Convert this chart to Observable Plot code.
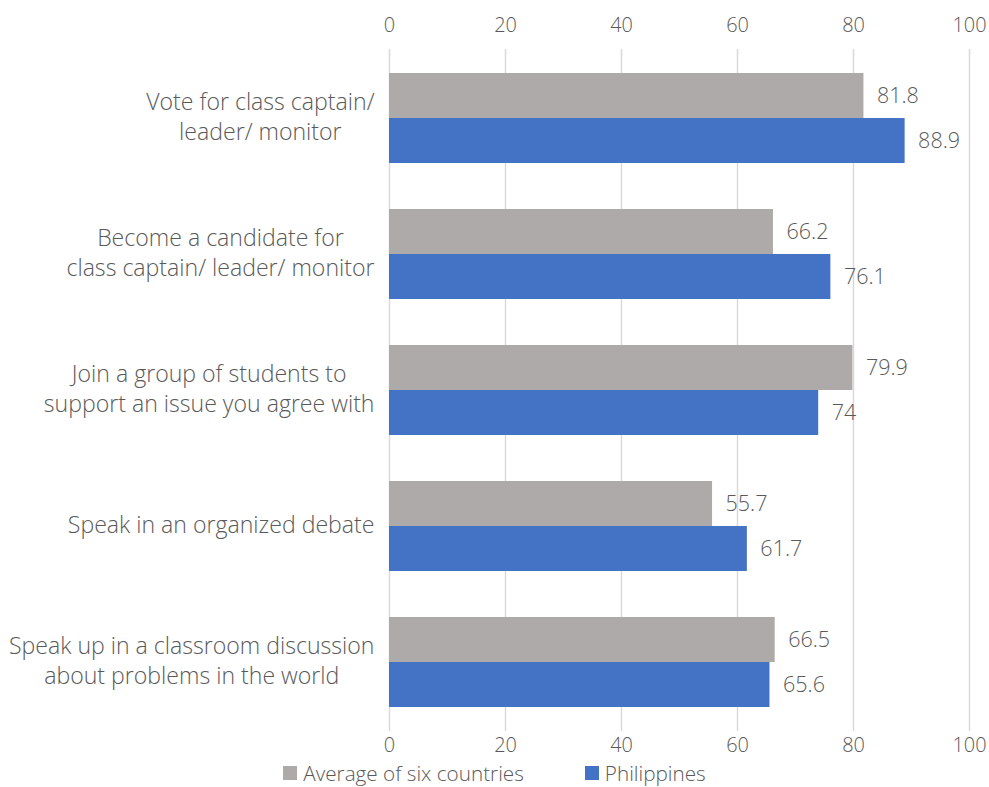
<!DOCTYPE html>
<html>
<head>
<meta charset="utf-8">
<script src="https://cdn.jsdelivr.net/npm/d3@7"></script>
<script src="https://cdn.jsdelivr.net/npm/@observablehq/plot@0.6"></script>
<style>
  body { margin: 0; background: #fff; font-family: "Open Sans", sans-serif; }
  #chart { width: 989px; }
  #legend { width: 989px; height: 29px; display: flex; justify-content: center; align-items: center; gap: 61px; font-size: 20.7px; font-weight: 300; color: #595959; }
  #legend .item { display: flex; align-items: center; gap: 6px; }
  #legend .sw { width: 14px; height: 14px; display: inline-block; }
</style>
</head>
<body>
<div id="chart"></div>
<div id="legend"></div>
<script>
// Activities students say they would do at school
const categories = [
  "Vote for class captain/\nleader/ monitor",
  "Become a candidate for\nclass captain/ leader/ monitor",
  "Join a group of students to\nsupport an issue you agree with",
  "Speak in an organized debate",
  "Speak up in a classroom discussion\nabout problems in the world"
];
const averageSix = [81.8, 66.2, 79.9, 55.7, 66.5];
const philippines = [88.9, 76.1, 74, 61.7, 65.6];
const xTicks = [0, 20, 40, 60, 80, 100];
const seriesNames = ["Average of six countries", "Philippines"];
const seriesColors = ["#AEAAAA", "#4472C4"];

const table = categories.map((c, i) => ({category: c, avg: averageSix[i], ph: philippines[i]}));

const W = 989, H = 758, mTop = 49, mBottom = 27, mLeft = 389, mRight = 20;
const padInner = 0.34, padOuter = 0.17;
const step = (H - mTop - mBottom) / (categories.length - padInner + 2 * padOuter);
const band = step * (1 - padInner);
const half = band / 2;

const weight = 300;
const textColor = "#595959";
const tickSize = 19.9, catSize = 23.1, valueSize = 21.5;
const ctx = document.createElement("canvas").getContext("2d");
ctx.font = `${weight} ${catSize}px "Open Sans"`;
const labelGap = 15;

// one centred multi-line label per category, right-aligned as a block
const categoryLabels = categories.map(c => {
  const w = d3.max(c.split("\n"), s => ctx.measureText(s).width);
  return Plot.text([c], {
    y: d => d, frameAnchor: "left", textAnchor: "middle",
    dx: -(labelGap + w / 2), dy: -3, lineHeight: 1.3,
    fill: textColor, fontSize: catSize, fontWeight: weight
  });
});

const chart = Plot.plot({
  width: W, height: H,
  marginTop: mTop, marginBottom: mBottom, marginLeft: mLeft, marginRight: mRight,
  style: {fontFamily: "'Open Sans', sans-serif", fontSize: `${tickSize}px`, fontWeight: weight, background: "#fff"},
  x: {domain: [0, 100], ticks: xTicks},
  y: {domain: categories, paddingInner: padInner, paddingOuter: padOuter, axis: null},
  marks: [
    Plot.gridX(xTicks, {stroke: "#d9d9d9", strokeOpacity: 1, strokeWidth: 1.5}),
    Plot.barX(table, {y: "category", x: "avg", fill: seriesColors[0], insetBottom: half}),
    Plot.barX(table, {y: "category", x: "ph", fill: seriesColors[1], insetTop: half}),
    Plot.text(table, {y: "category", x: "avg", text: d => String(d.avg), dx: 13, dy: -half / 2, textAnchor: "start", fill: textColor, fontSize: valueSize, fontWeight: weight}),
    Plot.text(table, {y: "category", x: "ph", text: d => String(d.ph), dx: 13, dy: half / 2, textAnchor: "start", fill: textColor, fontSize: valueSize, fontWeight: weight}),
    Plot.axisX(xTicks, {anchor: "top", tickSize: 0, tickPadding: 18, fill: textColor, fontSize: tickSize, fontWeight: weight}),
    Plot.axisX(xTicks, {anchor: "bottom", tickSize: 0, tickPadding: 6, fill: textColor, fontSize: tickSize, fontWeight: weight}),
    ...categoryLabels
  ]
});
document.getElementById("chart").append(chart);

const legend = d3.select("#legend");
seriesNames.forEach((name, i) => {
  const item = legend.append("div").attr("class", "item");
  item.append("span").attr("class", "sw").style("background", seriesColors[i]);
  item.append("span").text(name);
});
</script>
</body>
</html>
